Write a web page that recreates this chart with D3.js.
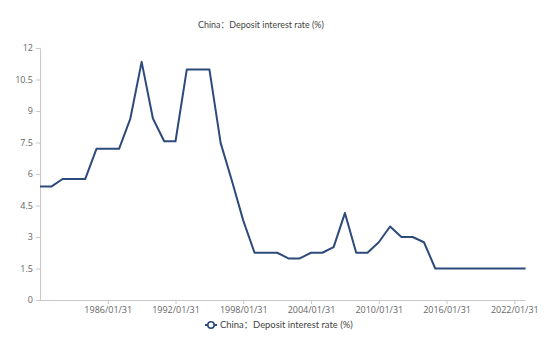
<!DOCTYPE html>
<html><head><meta charset="utf-8">
<script src="https://cdn.jsdelivr.net/npm/d3@7"></script>
<style>body{margin:0;background:#fff}svg{display:block}text{font-family:"Open Sans","Noto Sans CJK SC",sans-serif}
.lbl{font-family:"Lato","Noto Sans CJK SC",sans-serif}</style>
</head><body><svg id="c" width="553" height="359"></svg>
<script>
const years = d3.range(1980, 2024);
const values = [5.4,5.4,5.76,5.76,5.76,7.2,7.2,7.2,8.64,11.34,8.64,7.56,7.56,10.98,10.98,10.98,7.47,5.67,3.78,2.25,2.25,2.25,1.98,1.98,2.25,2.25,2.52,4.14,2.25,2.25,2.75,3.5,3.0,3.0,2.75,1.5,1.5,1.5,1.5,1.5,1.5,1.5,1.5,1.5];
const yTicks = [0,1.5,3,4.5,6,7.5,9,10.5,12];
const xTickYears = [1986,1992,1998,2004,2010,2016,2022];
const title = "China：Deposit interest rate (%)";
const seriesName = "China：Deposit interest rate (%)";

const color = "#2c4a7b";
const svg = d3.select("#c");
const m = {l:40, r:27, t:48, b:59};
const W = 553, H = 359;
const x = d3.scaleLinear().domain([1980, 2023]).range([m.l, 525.6]);
const y = d3.scaleLinear().domain([0, 12]).range([H - m.b, m.t]);

function fitWidth(sel, target) {
  const w = sel.node().getComputedTextLength();
  const fs = +sel.attr("font-size");
  sel.attr("font-size", fs * target / w);
}

const t = svg.append("text").attr("class","lbl").attr("x", 198).attr("y", 28)
  .attr("font-size", 10).attr("fill","#444").text(title);
fitWidth(t, 126);

const ya = svg.append("g").attr("transform", `translate(${m.l},0)`)
  .call(d3.axisLeft(y).tickValues(yTicks).tickSize(4).tickPadding(3).tickFormat(d => d3.format("")(d)));
ya.select(".domain").attr("stroke","#c8c8c8");
ya.selectAll(".tick line").attr("stroke","#c8c8c8");
ya.selectAll("text").attr("font-size", 9).attr("fill","#666");

const xa = svg.append("g").attr("transform", `translate(0,${H - m.b})`)
  .call(d3.axisBottom(x).tickValues(xTickYears).tickSize(4).tickPadding(3).tickFormat(d => d + "/01/31"));
xa.select(".domain").attr("stroke","#c8c8c8").attr("d", `M${m.l},0.5H${x(2023)}`);
xa.selectAll(".tick line").attr("stroke","#c8c8c8");
xa.selectAll("text").attr("font-size", 9).attr("fill","#666");

const line = d3.line().x((d,i) => x(years[i])).y(d => y(d));
svg.append("path").datum(values).attr("d", line).attr("fill","none")
  .attr("stroke", color).attr("stroke-width", 2).attr("stroke-linejoin","round");

const lg = svg.append("g").attr("transform", "translate(205,325)");
lg.append("line").attr("x1",0).attr("x2",12).attr("y1",0).attr("y2",0).attr("stroke",color).attr("stroke-width",2);
lg.append("circle").attr("cx",6).attr("cy",0).attr("r",3.2).attr("fill","#fff").attr("stroke",color).attr("stroke-width",1.6);
const lt = lg.append("text").attr("class","lbl").attr("x",15).attr("y",3.4).attr("font-size",10).attr("fill","#444").text(seriesName);
fitWidth(lt, 133);
</script></body></html>
